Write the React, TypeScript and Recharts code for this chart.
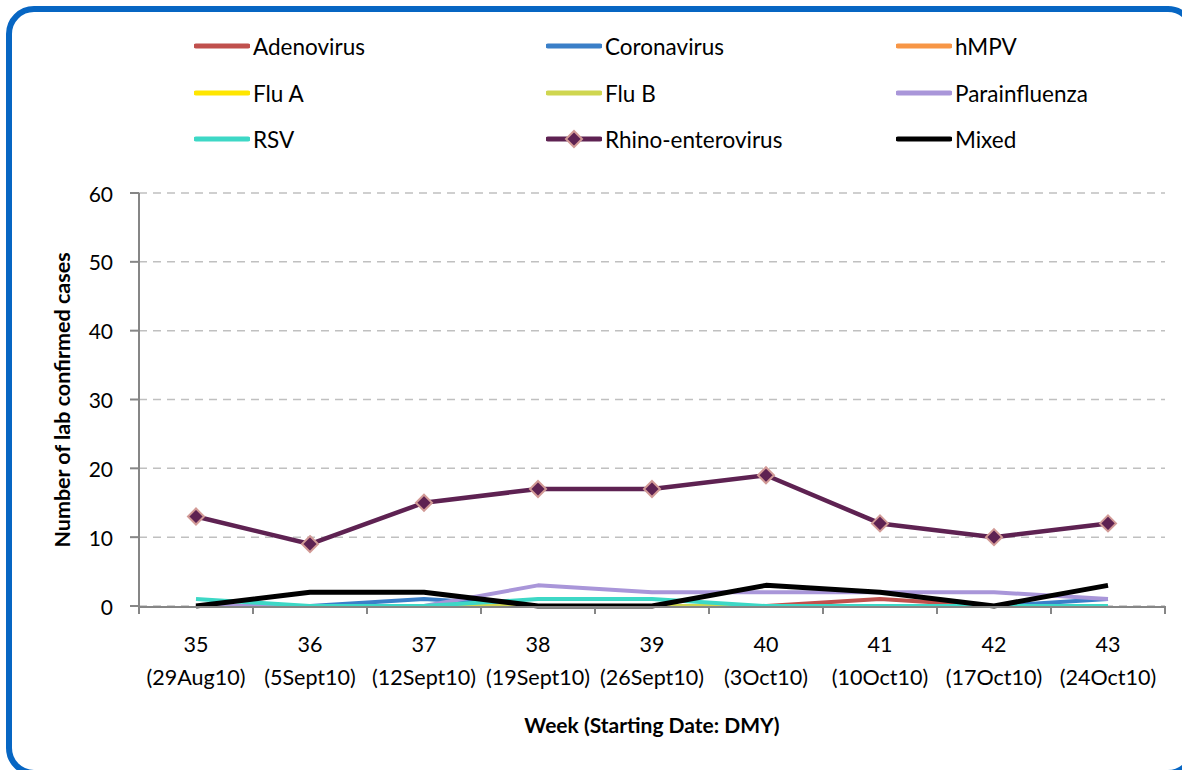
import React from "react";
import { LineChart, Line, XAxis, YAxis, CartesianGrid } from "recharts";

const weeks = ["35", "36", "37", "38", "39", "40", "41", "42", "43"];
const startDates = [
  "(29Aug10)",
  "(5Sept10)",
  "(12Sept10)",
  "(19Sept10)",
  "(26Sept10)",
  "(3Oct10)",
  "(10Oct10)",
  "(17Oct10)",
  "(24Oct10)",
];

const adenovirus = [0, 0, 0, 0, 0, 0, 1, 0, 0];
const coronavirus = [0, 0, 1, 0, 0, 0, 0, 0, 1];
const hmpv = [0, 0, 0, 0, 0, 0, 0, 0, 0];
const fluA = [0, 0, 0, 0, 0, 0, 0, 0, 0];
const fluB = [0, 0, 0, 0, 0, 0, 0, 0, 0];
const parainfluenza = [0, 0, 0, 3, 2, 2, 2, 2, 1];
const rsv = [1, 0, 0, 1, 1, 0, 0, 0, 0];
const rhino = [13, 9, 15, 17, 17, 19, 12, 10, 12];
const mixed = [0, 2, 2, 0, 0, 3, 2, 0, 3];

const yTicks = [0, 10, 20, 30, 40, 50, 60];

const series = [
  { key: "adenovirus", name: "Adenovirus", values: adenovirus, color: "#C0504D", width: 4 },
  { key: "coronavirus", name: "Coronavirus", values: coronavirus, color: "#3A7FC8", width: 4 },
  { key: "hmpv", name: "hMPV", values: hmpv, color: "#F79646", width: 4 },
  { key: "fluA", name: "Flu A", values: fluA, color: "#FFE600", width: 4 },
  { key: "fluB", name: "Flu B", values: fluB, color: "#CFD650", width: 4 },
  { key: "parainfluenza", name: "Parainfluenza", values: parainfluenza, color: "#A996D9", width: 4 },
  { key: "rsv", name: "RSV", values: rsv, color: "#3DD8C6", width: 4 },
  { key: "rhino", name: "Rhino-enterovirus", values: rhino, color: "#5E2252", width: 4.5, marker: true },
  { key: "mixed", name: "Mixed", values: mixed, color: "#000000", width: 5 },
];

const data = weeks.map((w, i) => {
  const row: Record<string, number> = { x: i };
  series.forEach((s) => {
    row[s.key] = s.values[i];
  });
  return row;
});

const edgeTicks = [-0.5, 0.5, 1.5, 2.5, 3.5, 4.5, 5.5, 6.5, 7.5, 8.5];
const weekTicks = weeks.map((_, i) => i);

const FONT = "Lato, 'Open Sans', sans-serif";
const AXIS = "#868686";

// layout
const W = 1182;
const H = 770;
const MARGIN = { top: 193, right: 17, left: 79, bottom: 63 };
const Y_AXIS_W = 60;
const X_AXIS_H = 100;
const AXIS_Y = H - MARGIN.bottom - X_AXIS_H; // 607
const AXIS_X = MARGIN.left + Y_AXIS_W; // 139

function Diamond(props: any) {
  const { cx, cy } = props;
  if (cx == null || cy == null) return null;
  const r = 8;
  return (
    <path
      d={`M${cx},${cy - r} L${cx + r},${cy} L${cx},${cy + r} L${cx - r},${cy} Z`}
      fill="#5E2252"
      stroke="#D29A96"
      strokeWidth={2}
    />
  );
}

function WeekTick(props: any) {
  const { x, payload } = props;
  const i = payload.value as number;
  return (
    <g>
      <text x={x} y={AXIS_Y + 37} textAnchor="middle" dominantBaseline="central" fontSize={21.5} fontFamily={FONT} fill="#000">
        {weeks[i]}
      </text>
      <text x={x} y={AXIS_Y + 70} textAnchor="middle" dominantBaseline="central" fontSize={21.5} fontFamily={FONT} fill="#000">
        {startDates[i]}
      </text>
    </g>
  );
}

function CountTick(props: any) {
  const { y, payload } = props;
  return (
    <text x={AXIS_X - 26} y={y} textAnchor="end" dominantBaseline="central" fontSize={21} fontFamily={FONT} fill="#000">
      {payload.value}
    </text>
  );
}

function NoTick() {
  return <g />;
}

function Legend() {
  const colX = [194, 546, 896];
  const rowY = [46, 93, 139];
  return (
    <>
      {series.map((s, i) => {
        const left = colX[i % 3];
        const top = rowY[Math.floor(i / 3)];
        return (
          <div key={s.key} style={{ position: "absolute", left, top: top - 15, height: 30, display: "flex", alignItems: "center" }}>
            <svg width={56} height={30} style={{ display: "block" }}>
              <line x1={2} y1={15} x2={54} y2={15} stroke={s.color} strokeWidth={5} strokeLinecap="round" />
              {s.marker && <Diamond cx={28} cy={15} />}
            </svg>
            <span style={{ marginLeft: 3, fontSize: 22.5, fontFamily: FONT, color: "#000", whiteSpace: "nowrap" }}>{s.name}</span>
          </div>
        );
      })}
    </>
  );
}

export default function App() {
  return (
    <div style={{ position: "absolute", left: 0, top: 0, width: W, height: H, overflow: "hidden", background: "#fff" }}>
      <div
        style={{
          position: "absolute",
          left: 6,
          top: 6,
          width: 1190,
          height: 770,
          boxSizing: "border-box",
          border: "6px solid #0766C3",
          borderRadius: 28,
        }}
      />
      <Legend />
      <div style={{ position: "absolute", left: 0, top: 0 }}>
        <LineChart width={W} height={H} data={data} margin={MARGIN}>
          <CartesianGrid vertical={false} stroke="#C0C0C0" strokeWidth={1.5} strokeDasharray="8 6" />
          <XAxis
            xAxisId="edges"
            dataKey="x"
            type="number"
            domain={[-0.5, 8.5]}
            ticks={edgeTicks}
            tick={<NoTick />}
            tickSize={8}
            tickLine={{ stroke: AXIS, strokeWidth: 2 }}
            axisLine={false}
            height={1}
            interval={0}
          />
          <XAxis
            xAxisId="weeks"
            dataKey="x"
            type="number"
            domain={[-0.5, 8.5]}
            ticks={weekTicks}
            tick={<WeekTick />}
            tickLine={false}
            tickSize={0}
            tickMargin={0}
            axisLine={{ stroke: AXIS, strokeWidth: 2 }}
            height={X_AXIS_H}
            interval={0}
            label={{
              content: () => (
                <text
                  x={AXIS_X + (W - MARGIN.right - AXIS_X) / 2}
                  y={AXIS_Y + 117}
                  textAnchor="middle"
                  dominantBaseline="central"
                  fontSize={21}
                  fontWeight="bold"
                  fontFamily={FONT}
                  fill="#000"
                >
                  Week (Starting Date: DMY)
                </text>
              ),
            }}
          />
          <YAxis
            domain={[0, 60]}
            ticks={yTicks}
            interval={0}
            width={Y_AXIS_W}
            tickSize={9}
            tick={<CountTick />}
            tickLine={{ stroke: AXIS, strokeWidth: 2 }}
            axisLine={{ stroke: AXIS, strokeWidth: 2 }}
            label={{
              content: () => {
                const cy = MARGIN.top + (AXIS_Y - MARGIN.top) / 2;
                return (
                  <text
                    x={62}
                    y={cy}
                    transform={`rotate(-90, 62, ${cy})`}
                    textAnchor="middle"
                    dominantBaseline="central"
                    fontSize={21.5}
                    fontWeight="bold"
                    fontFamily={FONT}
                    fill="#000"
                  >
                    Number of lab confirmed cases
                  </text>
                );
              },
            }}
          />
          {series.map((s) => (
            <Line
              key={s.key}
              xAxisId="weeks"
              dataKey={s.key}
              name={s.name}
              stroke={s.color}
              strokeWidth={s.width}
              strokeLinejoin="round"
              dot={s.marker ? <Diamond /> : false}
              activeDot={false}
              isAnimationActive={false}
            />
          ))}
        </LineChart>
      </div>
    </div>
  );
}
